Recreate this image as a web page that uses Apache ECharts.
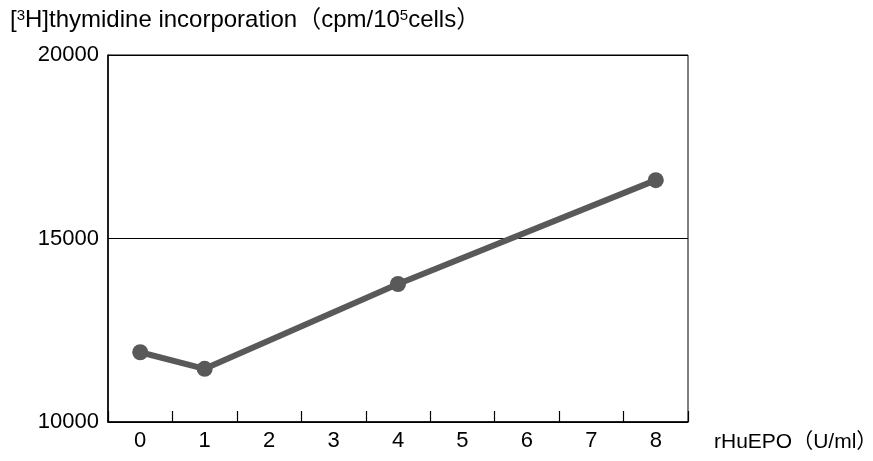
<!DOCTYPE html>
<html><head><meta charset="utf-8">
<script src="https://cdn.jsdelivr.net/npm/echarts@6/dist/echarts.min.js"></script>
<style>html,body{margin:0;padding:0;background:#fff;}#c{width:873px;height:461px;}</style>
</head><body><div id="c"></div>
<script>
var categories = ['0','1','2','3','4','5','6','7','8'];
var incorporation = [11900, 11450, null, null, 13760, null, null, null, 16590];
var yTicks = [10000, 15000, 20000];
var titleText = '[{sup|3}H]thymidine incorporation（cpm/10{sup|5}cells）';
var xName = 'rHuEPO（U/ml）';

var FONT = '"Liberation Sans", "Noto Sans CJK JP", sans-serif';
var chart = echarts.init(document.getElementById('c'));
chart.setOption({
  animation: false,
  backgroundColor: '#fff',
  title: {
    text: titleText, left: 5, top: 3,
    textStyle: {
      fontFamily: FONT, fontSize: 24, fontWeight: 'normal', color: '#000',
      rich: { sup: { fontFamily: FONT, fontSize: 15, verticalAlign: 'top', padding: [0,0,9,0], color: '#000' } }
    }
  },
  grid: { left: 108, right: 185, top: 55, bottom: 39, show: true, borderColor: '#000', borderWidth: 1, backgroundColor: 'transparent', containLabel: false, outerBoundsMode: 'none' },
  xAxis: {
    type: 'category', data: categories, boundaryGap: true,
    axisLine: { lineStyle: { color: '#000', width: 1.5 } },
    axisTick: { show: true, inside: true, length: 11, lineStyle: { color: '#000', width: 1.2 } },
    axisLabel: { color: '#000', fontSize: 22, fontFamily: FONT, margin: 8 },
    name: xName, nameLocation: 'end', nameGap: 26,
    nameTextStyle: { color: '#000', fontSize: 21, fontFamily: FONT, verticalAlign: 'top', padding: [10,0,0,0] }
  },
  yAxis: {
    type: 'value', min: yTicks[0], max: yTicks[yTicks.length-1], interval: 5000,
    axisLine: { show: true, lineStyle: { color: '#000', width: 1.5 } },
    axisTick: { show: false },
    axisLabel: { color: '#000', fontSize: 22, fontFamily: FONT, margin: 9, formatter: function (v) { return String(v); } },
    splitLine: { show: true, lineStyle: { color: '#000', width: 1 } }
  },
  series: [{
    type: 'line', data: incorporation, connectNulls: true,
    symbol: 'circle', symbolSize: 16,
    lineStyle: { color: '#595959', width: 6 },
    itemStyle: { color: '#595959' }
  }]
});
</script></body></html>
